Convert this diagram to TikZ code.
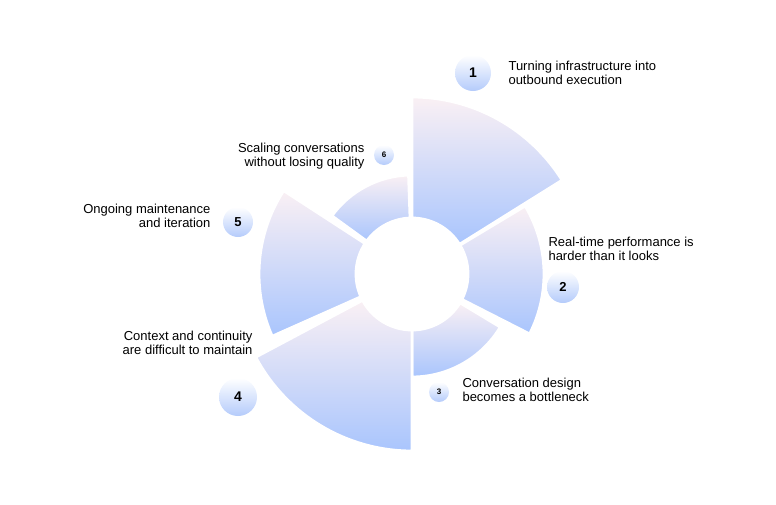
\documentclass[tikz,border=0pt]{standalone}
\usepackage{fontspec}
\setmainfont{Liberation Sans}
\begin{document}
\begin{tikzpicture}[x=1pt,y=-1pt]
\useasboundingbox (0,0) rectangle (776,504);
\coordinate (c) at (412,274);
\tikzset{seg/.style={top color=pinkt, bottom color=blueb, draw=white, line width=2.8pt, line join=miter},
 num/.style={circle, minimum size=#1, inner sep=0pt, top color=white, bottom color=numb, font=\bfseries},
 lbl/.style={align=left, font=\fontsize{13}{14}\selectfont, anchor=west},
 lblr/.style={align=right, font=\fontsize{13}{14}\selectfont, anchor=east}}
\definecolor{pinkt}{HTML}{FAF0F4}
\definecolor{blueb}{HTML}{A9C5FD}
\definecolor{numb}{HTML}{B4CBFB}
\newcommand{\sector}[3]{\path[seg] ([shift={(c)}]-#1:56) arc[start angle=-#1,end angle=-#2,radius=56] -- ([shift={(c)}]-#2:#3) arc[start angle=-#2,end angle=-#1,radius=#3] -- cycle;}
\sector{90}{32}{177}
\sector{31}{-27}{132}
\sector{-31}{-90}{103}
\sector{-90}{-152}{177}
\sector{-156}{-213}{153}
\sector{-216}{-268}{99}
\node[num=36pt, font=\bfseries\fontsize{14}{14}\selectfont] (n1) at (473,73) {1};
\node[num=32pt, font=\bfseries\fontsize{13}{13}\selectfont] (n2) at (563,287) {2};
\node[num=20pt, font=\bfseries\fontsize{8}{8}\selectfont] (n3) at (439,392) {3};
\node[num=38pt, font=\bfseries\fontsize{14}{14}\selectfont] (n4) at (238,397) {4};
\node[num=30pt, font=\bfseries\fontsize{13}{13}\selectfont] (n5) at (238,222) {5};
\node[num=20pt, font=\bfseries\fontsize{8}{8}\selectfont] (n6) at (384,155) {6};
\node[lbl] (t1) at (505,73) {Turning infrastructure into\\outbound execution};
\node[lbl] (t2) at (545,249) {Real-time performance is\\harder than it looks};
\node[lbl] (t3) at (459,390) {Conversation design\\becomes a bottleneck};
\node[lblr] (t4) at (256,343) {Context and continuity\\are difficult to maintain};
\node[lblr] (t5) at (214,216) {Ongoing maintenance\\and iteration};
\node[lblr] (t6) at (368,156) {Scaling conversations\\without losing quality};
\end{tikzpicture}
\end{document}
